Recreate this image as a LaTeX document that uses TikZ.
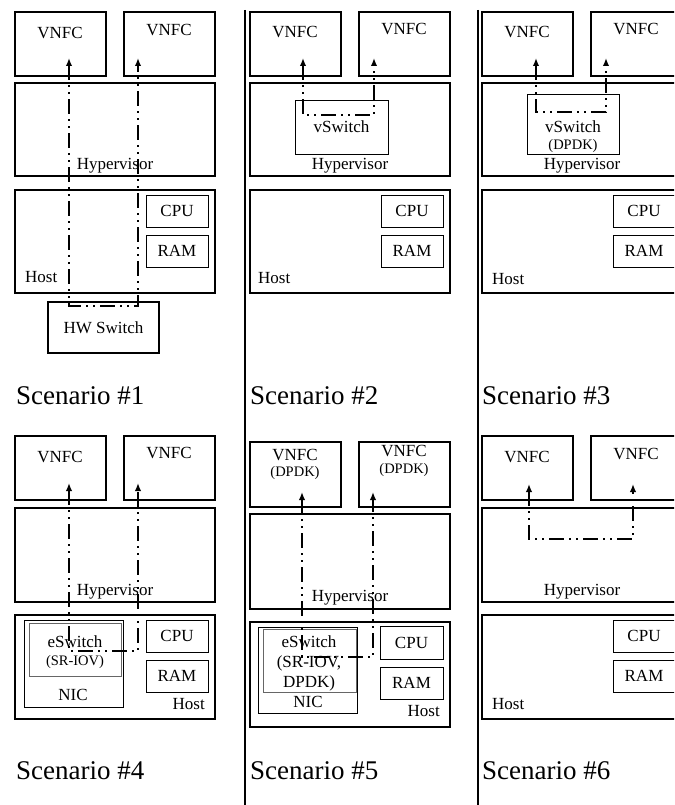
\documentclass[tikz,border=0pt]{standalone}
\usepackage{fontspec}
\setmainfont{Liberation Serif}
\usetikzlibrary{arrows.meta}

\begin{document}
\begin{tikzpicture}[x=1pt,y=-1pt,
  tier/.style={draw, line width=1.5pt, inner sep=0pt, outer sep=0pt, anchor=north west, font=\fontsize{17}{19}\selectfont},
  part/.style={draw, line width=0.9pt, inner sep=0pt, outer sep=0pt, anchor=north west, font=\fontsize{17}{19}\selectfont},
  txt/.style={inner sep=0pt, font=\fontsize{17}{19}\selectfont},
  sub/.style={inner sep=0pt, font=\fontsize{14.5}{16}\selectfont},
  scen/.style={inner sep=0pt, anchor=base west, font=\fontsize{27}{30}\selectfont},
  flow/.style={line width=1.6pt, dash pattern=on 15pt off 5pt on 2pt off 5pt on 2pt off 5pt,
    {Latex[length=8pt,width=6.5pt]}-{Latex[length=8pt,width=6.5pt]}},
  divider/.style={line width=2pt}]
\useasboundingbox (0,0) rectangle (674,805);
\clip (0,0) rectangle (674,805);

% scenario 1: HW switch
\begin{scope}[shift={(15,12)}]
\node[tier, minimum width=91, minimum height=64] (vnfcA1) at (0,0) {};
\node[tier, minimum width=91, minimum height=64] (vnfcB1) at (109,0) {};
\node[txt] (vnfcAt1) at (45,21) {VNFC};
\node[txt] (vnfcBt1) at (154,18) {VNFC};
\node[tier, minimum width=200, minimum height=93] (hyp1) at (0,71) {};
\node[txt] (hypt1) at (100,154) {Hypervisor};
\node[tier, minimum width=200, minimum height=103] (host1) at (0,178) {};
\node[txt, anchor=west] (hostt1) at (10,265) {Host};
\node[part, minimum width=62, minimum height=32] (cpu1) at (131,183) {CPU};
\node[part, minimum width=62, minimum height=32] (ram1) at (131,223) {RAM};
\node[tier, minimum width=111, minimum height=51] (hw1) at (33,290) {HW Switch};
\coordinate (tipA1) at (54,46);
\coordinate (tipB1) at (123,46);
\coordinate (turnA1) at (54,294);
\coordinate (turnB1) at (123,294);
\draw[flow] (tipA1) -- (turnA1) -- (turnB1) -- (tipB1);
\node[scen] (scen1) at (1,392) {Scenario \#1};
\end{scope}

% scenario 2: vSwitch
\begin{scope}[shift={(250,12)}]
\node[tier, minimum width=91, minimum height=64] (vnfcA2) at (0,0) {};
\node[tier, minimum width=91, minimum height=64] (vnfcB2) at (109,0) {};
\node[txt] (vnfcAt2) at (45,20) {VNFC};
\node[txt] (vnfcBt2) at (154,17) {VNFC};
\node[tier, minimum width=200, minimum height=93] (hyp2) at (0,71) {};
\node[txt] (hypt2) at (100,154) {Hypervisor};
\node[part, minimum width=93, minimum height=54] (vsw2) at (45,88) {vSwitch};
\node[tier, minimum width=200, minimum height=103] (host2) at (0,178) {};
\node[txt, anchor=west] (hostt2) at (8,266) {Host};
\node[part, minimum width=62, minimum height=32] (cpu2) at (131,183) {CPU};
\node[part, minimum width=62, minimum height=32] (ram2) at (131,223) {RAM};
\coordinate (tipA2) at (53,46);
\coordinate (tipB2) at (124,46);
\coordinate (turnA2) at (53,103);
\coordinate (turnB2) at (124,103);
\draw[flow] (tipA2) -- (turnA2) -- (turnB2) -- (tipB2);
\node[scen] (scen2) at (0,392) {Scenario \#2};
\end{scope}

% scenario 3: vSwitch with DPDK
\begin{scope}[shift={(482,12)}]
\node[tier, minimum width=91, minimum height=64] (vnfcA3) at (0,0) {};
\node[tier, minimum width=91, minimum height=64] (vnfcB3) at (109,0) {};
\node[txt] (vnfcAt3) at (45,20) {VNFC};
\node[txt] (vnfcBt3) at (154,17) {VNFC};
\node[tier, minimum width=200, minimum height=93] (hyp3) at (0,71) {};
\node[txt] (hypt3) at (100,154) {Hypervisor};
\node[part, minimum width=92, minimum height=60] (vsw3) at (45,82) {};
\node[txt] (vswt3) at (91,115) {vSwitch};
\node[sub] (vswd3) at (91,134) {(DPDK)};
\node[tier, minimum width=200, minimum height=103] (host3) at (0,178) {};
\node[txt, anchor=west] (hostt3) at (10,267) {Host};
\node[part, minimum width=62, minimum height=32] (cpu3) at (131,183) {CPU};
\node[part, minimum width=62, minimum height=32] (ram3) at (131,223) {RAM};
\coordinate (tipA3) at (54,46);
\coordinate (tipB3) at (124,46);
\coordinate (turnA3) at (54,100);
\coordinate (turnB3) at (124,100);
\draw[flow] (tipA3) -- (turnA3) -- (turnB3) -- (tipB3);
\node[scen] (scen3) at (0,392) {Scenario \#3};
\end{scope}

% scenario 4: eSwitch (SR-IOV)
\begin{scope}[shift={(15,436)}]
\node[tier, minimum width=91, minimum height=64] (vnfcA4) at (0,0) {};
\node[tier, minimum width=91, minimum height=64] (vnfcB4) at (109,0) {};
\node[txt] (vnfcAt4) at (45,21) {VNFC};
\node[txt] (vnfcBt4) at (154,17) {VNFC};
\node[tier, minimum width=200, minimum height=94] (hyp4) at (0,72) {};
\node[txt] (hypt4) at (100,156) {Hypervisor};
\node[tier, minimum width=200, minimum height=104] (host4) at (0,179) {};
\node[txt, anchor=east] (hostt4) at (190,268) {Host};
\node[part, minimum width=62, minimum height=32] (cpu4) at (131,184) {CPU};
\node[part, minimum width=62, minimum height=32] (ram4) at (131,224) {RAM};
\node[part, minimum width=99, minimum height=87] (nic4) at (9,184) {};
\node[part, draw=gray!80!black, minimum width=92, minimum height=53] (esw4) at (14,187) {};
\node[txt] (eswt4) at (60,206) {eSwitch};
\node[sub] (eswd4) at (60,226) {(SR-IOV)};
\node[txt] (nict4) at (58,259) {NIC};
\coordinate (tipA4) at (54,47);
\coordinate (tipB4) at (123,47);
\coordinate (turnA4) at (54,215);
\coordinate (turnB4) at (123,215);
\draw[flow] (tipA4) -- (turnA4) -- (turnB4) -- (tipB4);
\node[scen] (scen4) at (1,343) {Scenario \#4};
\end{scope}

% scenario 5: eSwitch (SR-IOV, DPDK)
\begin{scope}[shift={(250,442)}]
\node[tier, minimum width=91, minimum height=65] (vnfcA5) at (0,0) {};
\node[tier, minimum width=91, minimum height=65] (vnfcB5) at (109,0) {};
\node[txt] (vnfcAt5) at (45,13) {VNFC};
\node[sub] (vnfcAd5) at (45,31) {(DPDK)};
\node[txt] (vnfcBt5) at (154,9) {VNFC};
\node[sub] (vnfcBd5) at (154,28) {(DPDK)};
\node[tier, minimum width=200, minimum height=95] (hyp5) at (0,72) {};
\node[txt] (hypt5) at (100,156) {Hypervisor};
\node[tier, minimum width=200, minimum height=105] (host5) at (0,180) {};
\node[txt, anchor=east] (hostt5) at (190,269) {Host};
\node[part, minimum width=63, minimum height=33] (cpu5) at (130,184) {CPU};
\node[part, minimum width=63, minimum height=32] (ram5) at (130,225) {RAM};
\node[part, minimum width=99, minimum height=86] (nic5) at (8,185) {};
\node[part, draw=gray!80!black, minimum width=93, minimum height=63] (esw5) at (13,187) {};
\node[txt] (eswt5) at (59,200) {eSwitch};
\node[txt] (eswd5) at (59,221) {(SR-IOV,};
\node[txt] (eswk5) at (59,241) {DPDK)};
\node[txt] (nict5) at (58,260) {NIC};
\coordinate (tipA5) at (52,50);
\coordinate (tipB5) at (123,50);
\coordinate (turnA5) at (52,215);
\coordinate (turnB5) at (123,215);
\draw[flow] (tipA5) -- (turnA5) -- (turnB5) -- (tipB5);
\node[scen] (scen5) at (0,337) {Scenario \#5};
\end{scope}

% scenario 6: hypervisor only
\begin{scope}[shift={(482,436)}]
\node[tier, minimum width=91, minimum height=64] (vnfcA6) at (0,0) {};
\node[tier, minimum width=91, minimum height=64] (vnfcB6) at (109,0) {};
\node[txt] (vnfcAt6) at (45,21) {VNFC};
\node[txt] (vnfcBt6) at (154,18) {VNFC};
\node[tier, minimum width=200, minimum height=94] (hyp6) at (0,72) {};
\node[txt] (hypt6) at (100,156) {Hypervisor};
\node[tier, minimum width=200, minimum height=104] (host6) at (0,179) {};
\node[txt, anchor=west] (hostt6) at (10,268) {Host};
\node[part, minimum width=62, minimum height=32] (cpu6) at (131,184) {CPU};
\node[part, minimum width=62, minimum height=32] (ram6) at (131,224) {RAM};
\coordinate (tipA6) at (47,48);
\coordinate (tipB6) at (151,48);
\coordinate (turnA6) at (47,103);
\coordinate (turnB6) at (151,103);
\draw[flow] (tipA6) -- (turnA6) -- (turnB6) -- (tipB6);
\node[scen] (scen6) at (0,343) {Scenario \#6};
\end{scope}

\draw[divider] (245,10) -- (245,805);
\draw[divider] (478,10) -- (478,805);
\end{tikzpicture}
\end{document}
